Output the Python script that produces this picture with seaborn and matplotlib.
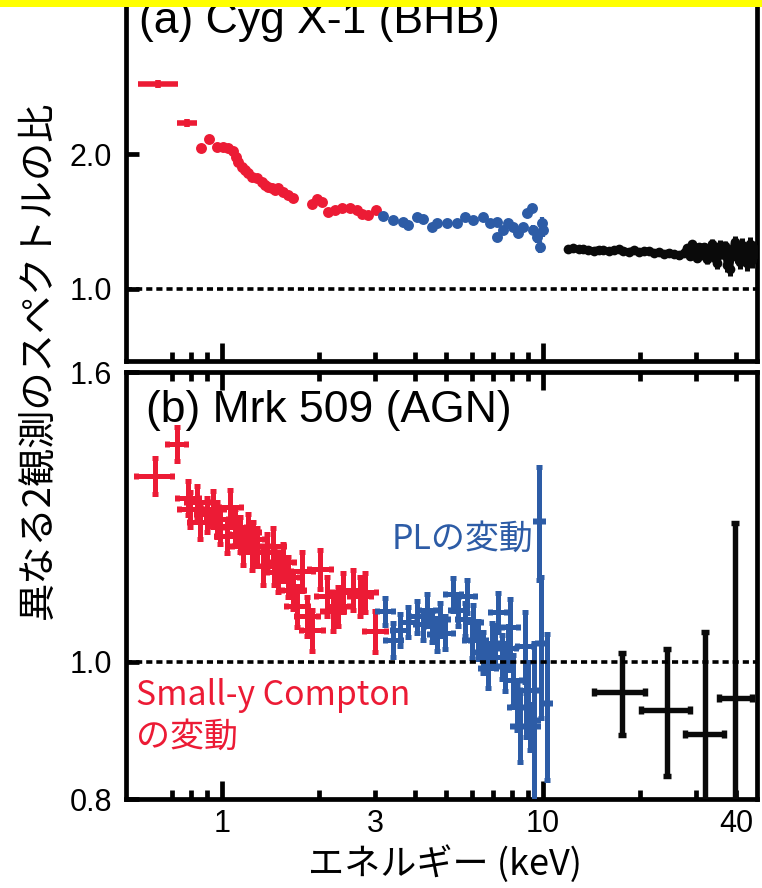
import matplotlib
matplotlib.use("Agg")
import matplotlib.pyplot as plt
import seaborn as sns
from matplotlib.ticker import FixedLocator, FuncFormatter, NullLocator
from matplotlib.patches import Rectangle

sns.set_theme(style="ticks")
plt.rcParams["font.family"] = ["Liberation Sans", "Noto Sans CJK JP", "DejaVu Sans"]

RED = "#EC1B35"
BLUE = "#2D5CA6"
BLACK = "#0A0A0A"
JP = ["Noto Sans CJK JP", "DejaVu Sans"]

# ---------------- (a) Cyg X-1 : ratio of two spectra ----------------
cyg_bin_energy = [0.632, 0.778]
cyg_bin_elo = [0.085, 0.054]
cyg_bin_ehi = [0.097, 0.058]
cyg_bin_ratio = [2.87, 2.35]
cyg_bin_err = [0.06, 0.045]

cyg_red_energy = [0.860, 0.911, 0.965, 1.007, 1.044, 1.082, 1.106, 1.122, 1.154, 1.179,
                  1.205, 1.240, 1.285, 1.332, 1.361, 1.391, 1.432, 1.463, 1.494, 1.549,
                  1.606, 1.664, 1.907, 1.977, 2.049, 2.139, 2.249, 2.365, 2.505, 2.634,
                  2.731, 2.850, 3.018]
cyg_red_ratio = [2.064, 2.162, 2.075, 2.075, 2.064, 2.032, 1.971, 1.921, 1.872, 1.843,
                 1.815, 1.778, 1.769, 1.733, 1.707, 1.689, 1.680, 1.663, 1.680, 1.646,
                 1.621, 1.596, 1.548, 1.588, 1.564, 1.485, 1.500, 1.516, 1.516, 1.500,
                 1.470, 1.463, 1.500]

cyg_blue_energy = [3.174, 3.410, 3.664, 3.798, 4.051, 4.229, 4.512, 4.676, 5.022, 5.397,
                   5.715, 6.052, 6.504, 6.838, 7.190, 7.210, 7.507, 7.780, 8.064, 8.359,
                   8.664, 8.917, 9.243, 9.310, 9.580, 9.786, 9.929, 10.00]
cyg_blue_ratio = [1.455, 1.426, 1.411, 1.389, 1.448, 1.433, 1.375, 1.404, 1.404, 1.404,
                  1.448, 1.426, 1.448, 1.404, 1.411, 1.306, 1.354, 1.404, 1.375, 1.334,
                  1.375, 1.478, 1.516, 1.354, 1.306, 1.241, 1.404, 1.354]
cyg_blue_err = [0.008, 0.008, 0.008, 0.008, 0.009, 0.009, 0.009, 0.009, 0.010, 0.010,
                0.010, 0.011, 0.012, 0.013, 0.014, 0.015, 0.016, 0.018, 0.020, 0.022,
                0.024, 0.030, 0.035, 0.035, 0.040, 0.040, 0.045, 0.045]

cyg_hx_energy = [12.0, 12.4, 12.9, 13.3, 13.8, 14.4, 14.9, 15.4, 16.0, 16.6,
                 17.2, 17.8, 18.5, 19.2, 19.9, 20.6, 21.4, 22.2, 23.0, 23.8,
                 24.7, 25.6, 26.6, 27.5, 28.0, 28.6, 29.1, 29.6, 30.2, 30.7,
                 31.3, 31.8, 32.4, 33.0, 33.6, 34.2, 34.9, 35.5, 36.2, 36.8,
                 37.5, 38.1, 38.8, 39.5, 40.3, 41.0, 41.8, 42.5, 43.3, 44.1,
                 44.9, 45.7, 46.3]
cyg_hx_ratio = [1.228, 1.232, 1.226, 1.229, 1.222, 1.218, 1.224, 1.219, 1.214, 1.221,
                1.228, 1.216, 1.212, 1.220, 1.207, 1.214, 1.218, 1.203, 1.211, 1.197,
                1.206, 1.196, 1.188, 1.201, 1.232, 1.185, 1.257, 1.205, 1.172, 1.240,
                1.190, 1.238, 1.165, 1.225, 1.262, 1.180, 1.143, 1.250, 1.198, 1.247,
                1.130, 1.108, 1.215, 1.270, 1.180, 1.150, 1.255, 1.205, 1.140, 1.262,
                1.162, 1.230, 1.195]
cyg_hx_err = [0.009, 0.009, 0.009, 0.009, 0.010, 0.010, 0.010, 0.010, 0.011, 0.011,
              0.011, 0.011, 0.012, 0.012, 0.013, 0.013, 0.014, 0.014, 0.015, 0.016,
              0.017, 0.018, 0.019, 0.020, 0.020, 0.022, 0.022, 0.024, 0.024, 0.026,
              0.026, 0.028, 0.028, 0.030, 0.030, 0.032, 0.032, 0.034, 0.034, 0.036,
              0.036, 0.038, 0.038, 0.040, 0.040, 0.042, 0.042, 0.044, 0.044, 0.046,
              0.046, 0.048, 0.048]

# ---------------- (b) Mrk 509 : ratio of two spectra ----------------
mrk_red_energy = [0.618, 0.724, 0.784, 0.836, 0.795, 0.898, 0.937, 0.854, 0.965, 0.986,
                  1.059, 1.037, 1.098, 1.138, 1.163, 1.205, 1.249, 1.285, 1.240, 1.381,
                  1.442, 1.342, 1.455, 1.494, 1.549, 1.606, 1.775, 1.664, 1.713, 1.840,
                  1.907, 2.020, 2.124, 2.218, 2.299, 2.383, 2.559, 2.692, 2.790, 2.996]
mrk_red_ratio = [1.352, 1.424, 1.304, 1.296, 1.281, 1.270, 1.281, 1.254, 1.260, 1.246,
                 1.285, 1.226, 1.244, 1.230, 1.206, 1.234, 1.220, 1.206, 1.194, 1.194,
                 1.206, 1.167, 1.167, 1.156, 1.175, 1.148, 1.158, 1.124, 1.094, 1.076,
                 1.053, 1.162, 1.112, 1.085, 1.094, 1.119, 1.124, 1.112, 1.119, 1.050]
mrk_red_xerr = [0.080, 0.050, 0.062, 0.066, 0.063, 0.071, 0.074, 0.068, 0.076, 0.078,
                0.084, 0.082, 0.087, 0.090, 0.092, 0.095, 0.099, 0.102, 0.098, 0.109,
                0.114, 0.106, 0.115, 0.118, 0.122, 0.127, 0.140, 0.131, 0.135, 0.145,
                0.150, 0.160, 0.168, 0.175, 0.182, 0.188, 0.202, 0.213, 0.220, 0.237]
mrk_red_yerr = [0.040, 0.040, 0.036, 0.034, 0.036, 0.035, 0.037, 0.034, 0.036, 0.035,
                0.037, 0.034, 0.036, 0.035, 0.036, 0.037, 0.035, 0.036, 0.034, 0.036,
                0.037, 0.035, 0.034, 0.036, 0.035, 0.037, 0.036, 0.035, 0.036, 0.034,
                0.035, 0.037, 0.036, 0.035, 0.034, 0.036, 0.037, 0.035, 0.036, 0.035]

mrk_blue_energy = [3.220, 3.410, 3.585, 3.798, 4.051, 4.229, 4.352, 4.512, 4.676, 4.777,
                   4.951, 5.244, 5.436, 5.715, 5.798, 6.010, 6.052, 6.274, 6.504, 6.741,
                   6.937, 7.089, 7.243, 7.454, 7.616, 7.780, 7.892, 8.064, 8.299, 8.479,
                   8.788, 8.850, 8.980, 9.109, 9.376, 9.716, 9.857, 10.29]
mrk_blue_ratio = [1.085, 1.036, 1.053, 1.067, 1.076, 1.062, 1.088, 1.059, 1.045, 1.071,
                  1.048, 1.115, 1.088, 1.071, 1.112, 1.036, 1.066, 1.036, 1.015, 0.990,
                  1.031, 1.025, 1.083, 1.008, 0.992, 1.023, 1.057, 0.971, 0.929, 0.900,
                  1.025, 0.929, 0.955, 0.900, 0.910, 1.256, 1.030, 0.935]
mrk_blue_xerr = [0.19, 0.20, 0.21, 0.22, 0.23, 0.24, 0.25, 0.26, 0.27, 0.27,
                 0.28, 0.30, 0.31, 0.33, 0.33, 0.34, 0.34, 0.36, 0.37, 0.38,
                 0.39, 0.40, 0.41, 0.42, 0.43, 0.44, 0.45, 0.46, 0.47, 0.48,
                 0.50, 0.50, 0.51, 0.52, 0.25, 0.25, 0.25, 0.25]
mrk_blue_yerr = [0.024, 0.028, 0.028, 0.026, 0.028, 0.026, 0.028, 0.026, 0.028, 0.028,
                 0.028, 0.030, 0.028, 0.028, 0.030, 0.031, 0.030, 0.032, 0.034, 0.032,
                 0.034, 0.036, 0.034, 0.036, 0.038, 0.036, 0.050, 0.040, 0.034, 0.050,
                 0.058, 0.045, 0.045, 0.034, 0.120, 0.115, 0.117, 0.110]

mrk_hx_energy = [17.63, 24.33, 31.97, 39.63]
mrk_hx_elo = [3.21, 4.13, 4.27, 4.29]
mrk_hx_ehi = [3.16, 4.38, 4.67, 5.15]
mrk_hx_ratio = [0.951, 0.925, 0.889, 0.942]
mrk_hx_err = [0.063, 0.095, 0.160, 0.310]

x_major = [1, 10]
x_minor = [0.7, 0.8, 0.9, 2, 3, 4, 5, 6, 7, 8, 9, 20, 30, 40]
x_minor_labelled = [3, 40]
top_yticks = [1.0, 2.0]
bot_yticks = [0.8, 1.0, 1.6]

W, H = 762, 888
fig = plt.figure(figsize=(W / 100, H / 100), dpi=100)


def box(left, top, right, bottom):
    return [left / W, 1 - bottom / H, (right - left) / W, (bottom - top) / H]


ax_a = fig.add_axes(box(126, -10, 757, 361))
ax_b = fig.add_axes(box(126, 372, 757, 799))

for ax in (ax_a, ax_b):
    ax.set_xscale("log")
    ax.set_yscale("log")
    ax.set_xlim(0.502, 46.4)
    ax.set_facecolor("white")
    for sp in ax.spines.values():
        sp.set_linewidth(3.4)
        sp.set_color("black")
        sp.set_visible(True)
    ax.xaxis.set_major_locator(FixedLocator(x_major))
    ax.xaxis.set_minor_locator(FixedLocator(x_minor))
    ax.yaxis.set_minor_locator(NullLocator())
    ax.tick_params(axis="x", which="major", direction="in", length=13, width=3.4,
                   colors="black", labelsize=22, pad=7)
    ax.tick_params(axis="x", which="minor", direction="in", length=6.5, width=3.4,
                   colors="black", labelsize=22, pad=7)
    ax.tick_params(axis="y", which="major", direction="in", length=9, width=3.4,
                   colors="black", labelsize=22, pad=10)
    ax.axhline(1.0, color="black", lw=2.6, ls=(0, (1.7, 1.1)), zorder=6)

# panel (a)
ax_a.set_ylim(0.6906, 4.65)
ax_a.yaxis.set_major_locator(FixedLocator(top_yticks))
ax_a.yaxis.set_major_formatter(FuncFormatter(lambda v, p: f"{v:.1f}"))
ax_a.tick_params(axis="x", which="both", labelbottom=False)

ax_a.errorbar(cyg_bin_energy, cyg_bin_ratio, xerr=[cyg_bin_elo, cyg_bin_ehi],
              yerr=cyg_bin_err, fmt="none", ecolor=RED, elinewidth=4.0, capsize=0, zorder=3)
ax_a.errorbar(cyg_blue_energy, cyg_blue_ratio, yerr=cyg_blue_err, fmt="none",
              ecolor=BLUE, elinewidth=3.0, capsize=0, zorder=3)
ax_a.errorbar(cyg_hx_energy, cyg_hx_ratio, yerr=cyg_hx_err, fmt="none",
              ecolor=BLACK, elinewidth=3.6, capsize=0, zorder=3)
sns.scatterplot(x=cyg_red_energy, y=cyg_red_ratio, ax=ax_a, color=RED, s=62,
                linewidth=0, zorder=4)
sns.scatterplot(x=cyg_blue_energy, y=cyg_blue_ratio, ax=ax_a, color=BLUE, s=62,
                linewidth=0, zorder=4)
sns.lineplot(x=cyg_hx_energy, y=cyg_hx_ratio, ax=ax_a, color=BLACK, lw=5.0,
             marker="o", markersize=7, markeredgewidth=0, sort=False, zorder=4)

# panel (b)
ax_b.set_ylim(0.8, 1.6)
ax_b.yaxis.set_major_locator(FixedLocator(bot_yticks))
ax_b.yaxis.set_major_formatter(FuncFormatter(lambda v, p: f"{v:.1f}"))
ax_b.tick_params(axis="x", which="both", top=True)
ax_b.xaxis.set_major_formatter(FuncFormatter(lambda v, p: f"{v:g}"))
ax_b.xaxis.set_minor_formatter(
    FuncFormatter(lambda v, p: f"{v:g}" if any(abs(v - t) < 1e-6 for t in x_minor_labelled) else ""))

ax_b.errorbar(mrk_red_energy, mrk_red_ratio, xerr=mrk_red_xerr, yerr=mrk_red_yerr,
              fmt="none", ecolor=RED, elinewidth=3.6, capsize=2.4, capthick=3.6, zorder=3)
ax_b.errorbar(mrk_blue_energy, mrk_blue_ratio, xerr=mrk_blue_xerr, yerr=mrk_blue_yerr,
              fmt="none", ecolor=BLUE, elinewidth=3.6, capsize=2.4, capthick=3.6, zorder=3)
ax_b.errorbar(mrk_hx_energy, mrk_hx_ratio, xerr=[mrk_hx_elo, mrk_hx_ehi], yerr=mrk_hx_err,
              fmt="none", ecolor=BLACK, elinewidth=3.9, capsize=2.6, capthick=3.9, zorder=3)


def ftext(x, y, s, **kw):
    fig.text(x / W, 1 - y / H, s, **kw)


ftext(139, 22, "(a) Cyg X-1 (BHB)", fontsize=32, va="center", ha="left", color="black")
ftext(146, 410, "(b) Mrk 509 (AGN)", fontsize=32, va="center", ha="left", color="black")
ftext(392, 539, "PLの変動", family=JP, fontsize=24.5, va="center", ha="left", color=BLUE)
ftext(136, 695, "Small-y Compton", family=JP, fontsize=24.3, va="center", ha="left", color=RED)
ftext(136, 737, "の変動", family=JP, fontsize=24.5, va="center", ha="left", color=RED)
ftext(38, 360, "異なる2観測のスペクトルの比", family=JP, fontsize=27.5, rotation=90,
      va="center", ha="center", color="black")
ftext(445, 864, "エネルギー (keV)", family=JP, fontsize=26, va="center", ha="center",
      color="black")

# highlight band along the top edge
fig.patches.append(Rectangle((0, 1 - 7 / H), 1, 7 / H, transform=fig.transFigure,
                             facecolor="#FFFF00", edgecolor="none", zorder=20))

fig.savefig("out.png", dpi=100, facecolor="white")
